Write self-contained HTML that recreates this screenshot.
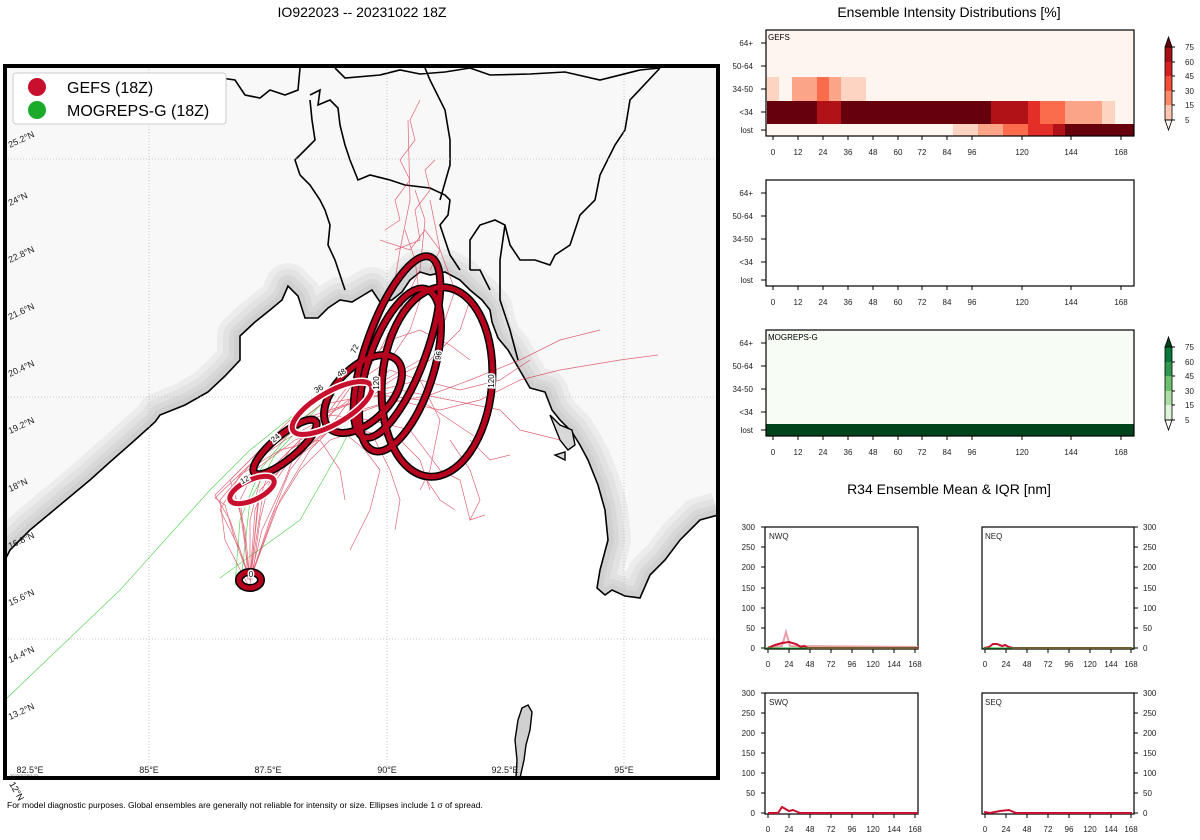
<!DOCTYPE html>
<html><head><meta charset="utf-8"><style>
html,body{margin:0;padding:0;background:#fff;overflow:hidden}
svg{display:block;font-family:"Liberation Sans","DejaVu Sans",sans-serif}
</style></head><body>
<svg width="1200" height="840" viewBox="0 0 1200 840" xmlns="http://www.w3.org/2000/svg">
<defs>
<clipPath id="mapclip"><rect x="5" y="66" width="713" height="712"/></clipPath>
<path id="coast" d="M718,515 L700,520 L680,540 L665,560 L650,575 L640,598 L625,596 L612,590 L605,595 L597,588 L600,570 L608,540 L605,510 L598,485 L588,460 L580,445 L572,432 L560,420 L552,410 L545,392 L530,388 L522,374 L515,362 L508,350 L498,338 L492,322 L490,310 L482,300 L470,290 L460,280 L445,272 L430,275 L420,272 L410,280 L402,292 L392,300 L380,302 L372,290 L362,296 L352,302 L340,300 L328,308 L318,318 L305,318 L298,296 L288,286 L282,300 L270,310 L255,322 L240,336 L240,360 L225,376 L208,392 L185,405 L160,415 L155,422 L135,440 L110,462 L90,480 L60,505 L30,530 L10,550 L5,560"/>
</defs>
<text x="362" y="17" font-size="14" text-anchor="middle">IO922023 -- 20231022 18Z</text>

<g clip-path="url(#mapclip)">
<rect x="5" y="66" width="713" height="712" fill="#f8f8f8"/>
<g fill="none" stroke-linejoin="round">
<use href="#coast" stroke="#ececec" stroke-width="46"/>
<use href="#coast" stroke="#e2e2e2" stroke-width="34"/>
<use href="#coast" stroke="#d8d8d8" stroke-width="22"/>
<use href="#coast" stroke="#d0d0d0" stroke-width="12"/>
</g>
<path d="M718,515 L700,520 L680,540 L665,560 L650,575 L640,598 L625,596 L612,590 L605,595 L597,588 L600,570 L608,540 L605,510 L598,485 L588,460 L580,445 L572,432 L560,420 L552,410 L545,392 L530,388 L522,374 L515,362 L508,350 L498,338 L492,322 L490,310 L482,300 L470,290 L460,280 L445,272 L430,275 L420,272 L410,280 L402,292 L392,300 L380,302 L372,290 L362,296 L352,302 L340,300 L328,308 L318,318 L305,318 L298,296 L288,286 L282,300 L270,310 L255,322 L240,336 L240,360 L225,376 L208,392 L185,405 L160,415 L155,422 L135,440 L110,462 L90,480 L60,505 L30,530 L10,550 L5,560 L5,900 L900,900 L900,515 Z" fill="#fff"/>
<use href="#coast" fill="none" stroke="#000" stroke-width="1.6"/>
<!-- country borders -->
<path d="M300,68 L298,90 L285,95 L270,90 L260,98 L245,95 L235,80 L200,75 L170,78 M335,68 L345,78 L380,75 L400,70 L420,74 L445,72 L470,68 M310,95 L320,90 L318,105 L330,100 L338,108 L340,125 L345,145 L350,160 L358,180 L370,175 L390,180 L405,185 L430,188 L445,195 L450,200 L448,215 L440,225 L445,240 L450,255 L460,270 M425,68 L430,80 L445,110 L450,140 L450,165 L440,200 M300,175 L295,160 L305,150 L315,140 L312,120 L310,100 M300,175 L310,185 L320,200 L325,210 L330,225 L328,245 L335,260 L340,275 L345,290 M470,68 L490,75 L530,74 L565,72 L600,80 L640,70 L660,68 M660,68 L630,100 L625,130 L615,145 L600,175 L595,200 L580,215 L570,245 L555,255 L550,265 L535,260 L520,260 L510,245 L505,225 L495,220 L480,225 L470,240 L470,270 M505,225 L500,260 L500,300 L510,330 L518,360 M470,270 L480,270 L490,290" fill="none" stroke="#000" stroke-width="1.6"/>
<path d="M550,415 L560,425 L572,430 L575,445 L568,450 L560,440 Z M555,455 L565,452 L565,460 Z" fill="#d8d8d8" stroke="#000" stroke-width="1.4"/>
<path d="M528,705 L532,712 L530,730 L526,745 L524,760 L520,778 L516,778 L517,760 L515,740 L518,720 L522,708 Z" fill="#d0d0d0" stroke="#000" stroke-width="1.4"/>
<g stroke="#bbb" stroke-width="0.8" stroke-dasharray="1,2">
<line x1="149" y1="66" x2="149" y2="778"/><line x1="387" y1="66" x2="387" y2="778"/><line x1="624" y1="66" x2="624" y2="778"/>
<line x1="5" y1="159" x2="718" y2="159"/><line x1="5" y1="397" x2="718" y2="397"/><line x1="5" y1="639" x2="718" y2="639"/>
</g>
<g fill="none" stroke="#3c3" stroke-width="0.7" opacity="0.8">
<path d="M5,700 L120,590 L210,490 L250,450 L300,410 L340,380"/>
<path d="M220,578 L300,520 L340,450 L360,410"/>
<path d="M235,585 L240,520 L260,470 L300,420 L335,395"/>
<path d="M240,590 L250,500 L275,455 L320,405"/>
</g>
<g fill="none" stroke="#d6334c" stroke-width="0.7" opacity="0.75">
<path d="M250,580 L230,520 L215,495 L240,470 L270,440 L300,410 L330,390 L360,380 L390,360 L410,330 L420,300 L415,260 L405,230"/>
<path d="M250,580 L245,530 L235,495 L260,460 L290,430 L320,405 L345,400 L380,395 L420,400 L450,420 L480,440"/>
<path d="M252,580 L260,520 L270,480 L290,450 L320,430 L350,420 L375,440 L390,470 L400,500 L395,530"/>
<path d="M248,585 L225,540 L220,500 L250,465 L285,440 L330,415 L370,420 L410,430 L440,470 L460,480 L470,520"/>
<path d="M250,580 L262,530 L285,480 L300,440 L330,410 L360,370 L380,320 L395,280 L400,250 L410,200 L408,120"/>
<path d="M250,580 L270,520 L290,470 L320,430 L345,395 L370,360 L390,340 L420,330 L450,345 L470,360"/>
<path d="M250,580 L255,510 L270,470 L300,440 L340,420 L380,405 L430,395 L470,380 L520,360 L560,340 L600,330"/>
<path d="M250,580 L240,510 L230,480 L265,445 L300,420 L345,405 L400,390 L450,400 L500,410 L520,430 L560,440"/>
<path d="M250,580 L265,540 L280,500 L310,450 L350,410 L385,380 L420,360 L445,320 L455,290 L440,250 L430,200"/>
<path d="M250,580 L250,520 L260,480 L285,455 L310,430 L355,395 L390,370 L420,380 L440,420 L430,470 L420,490"/>
<path d="M248,580 L245,540 L240,500 L255,470 L295,440 L335,425 L365,450 L380,470 L370,510 L350,550"/>
<path d="M250,580 L275,510 L300,470 L330,440 L360,430 L400,440 L420,460 L430,490"/>
<path d="M250,585 L258,500 L280,470 L320,440 L350,400 L380,350 L400,310 L420,270 L425,220 L415,190"/>
<path d="M250,580 L260,490 L290,460 L330,430 L360,410 L395,400 L440,410 L480,400 L520,380 L560,370 L620,360 L658,355"/>
<path d="M250,580 L262,500 L290,460 L340,420 L380,390 L420,380 L460,390 L500,380 L530,360"/>
<path d="M250,580 L240,550 L220,510 L240,475 L280,450 L320,440 L340,470 L345,500"/>
<path d="M385,230 L400,220 L395,200 L410,180 L400,160 L415,140 L410,120 L420,100 M395,250 L420,240 L415,210 L430,190 L425,170 L435,160 M380,240 L410,250 L425,230 L440,250 L430,270"/>
<path d="M450,440 L470,470 L480,500 L470,520 L485,515 M420,470 L440,500 L455,510 M470,440 L490,460 L510,455"/>
<path d="M250,580 L235,540 L225,505 L215,498 L260,455 L310,420 L360,400 L400,375 L430,360 L460,330 L470,300"/>
</g>
<g fill="none">
<g stroke="#000" stroke-width="8">
<ellipse cx="437" cy="382" rx="55" ry="95" transform="rotate(5 437 382)"/>
<ellipse cx="400" cy="370" rx="33" ry="85" transform="rotate(18 400 370)"/>
<ellipse cx="397" cy="347" rx="30" ry="96" transform="rotate(20 397 347)"/>
<ellipse cx="363" cy="394" rx="48" ry="27" transform="rotate(-45 363 394)"/>
<ellipse cx="285" cy="447" rx="40" ry="12" transform="rotate(-40 285 447)"/>
<ellipse cx="250" cy="580" rx="11" ry="8"/>
</g>
<g stroke="#b5001e" stroke-width="5">
<ellipse cx="437" cy="382" rx="55" ry="95" transform="rotate(5 437 382)"/>
<ellipse cx="400" cy="370" rx="33" ry="85" transform="rotate(18 400 370)"/>
<ellipse cx="397" cy="347" rx="30" ry="96" transform="rotate(20 397 347)"/>
<ellipse cx="363" cy="394" rx="48" ry="27" transform="rotate(-45 363 394)"/>
<ellipse cx="285" cy="447" rx="40" ry="12" transform="rotate(-40 285 447)"/>
<ellipse cx="250" cy="580" rx="11" ry="8"/>
</g>
<g stroke="#fff" stroke-width="8"><ellipse cx="332" cy="408" rx="45" ry="16" transform="rotate(-30 332 408)"/><ellipse cx="252" cy="490" rx="24" ry="10" transform="rotate(-25 252 490)"/></g>
<g stroke="#c8102e" stroke-width="5"><ellipse cx="332" cy="408" rx="45" ry="16" transform="rotate(-30 332 408)"/><ellipse cx="252" cy="490" rx="24" ry="10" transform="rotate(-25 252 490)"/></g>
</g>
<g font-size="8" text-anchor="middle" fill="#000">
<text x="251" y="577" stroke="#fff" stroke-width="3" paint-order="stroke">0</text>
<text x="246" y="482" transform="rotate(-30 246 482)" stroke="#fff" stroke-width="3" paint-order="stroke">12</text>
<text x="277" y="440" transform="rotate(-40 277 440)" stroke="#fff" stroke-width="3" paint-order="stroke">24</text>
<text x="320" y="391" transform="rotate(-30 320 391)" stroke="#fff" stroke-width="3" paint-order="stroke">36</text>
<text x="343" y="375" transform="rotate(-35 343 375)" stroke="#fff" stroke-width="3" paint-order="stroke">48</text>
<text x="357" y="350" transform="rotate(-65 357 350)" stroke="#fff" stroke-width="3" paint-order="stroke">72</text>
<text x="441" y="356" transform="rotate(-80 441 356)" stroke="#fff" stroke-width="3" paint-order="stroke">96</text>
<text x="379" y="383" transform="rotate(-90 379 383)" stroke="#fff" stroke-width="3" paint-order="stroke">120</text>
<text x="494" y="381" transform="rotate(-90 494 381)" stroke="#fff" stroke-width="3" paint-order="stroke">120</text>
</g>
<g font-size="9" fill="#222">
<text x="10" y="148" transform="rotate(-25 10 148)">25.2°N</text>
<text x="10" y="206" transform="rotate(-25 10 206)">24°N</text>
<text x="10" y="263" transform="rotate(-25 10 263)">22.8°N</text>
<text x="10" y="320" transform="rotate(-25 10 320)">21.6°N</text>
<text x="10" y="377" transform="rotate(-25 10 377)">20.4°N</text>
<text x="10" y="434" transform="rotate(-25 10 434)">19.2°N</text>
<text x="10" y="492" transform="rotate(-25 10 492)">18°N</text>
<text x="10" y="549" transform="rotate(-25 10 549)">16.8°N</text>
<text x="10" y="606" transform="rotate(-25 10 606)">15.6°N</text>
<text x="10" y="663" transform="rotate(-25 10 663)">14.4°N</text>
<text x="10" y="720" transform="rotate(-25 10 720)">13.2°N</text>
</g>
<g font-size="9" fill="#222" text-anchor="middle">
<text x="30" y="773">82.5°E</text><text x="149" y="773">85°E</text><text x="268" y="773">87.5°E</text><text x="387" y="773">90°E</text><text x="505" y="773">92.5°E</text><text x="624" y="773">95°E</text>
</g>
<text x="10" y="777" font-size="4" fill="#444">2023102302:33</text>
</g>
<rect x="5" y="66" width="713" height="712" fill="none" stroke="#000" stroke-width="4"/>
<text x="9" y="784" font-size="9" transform="rotate(60 9 784)">12°N</text>
<text x="7" y="808" font-size="8.5">For model diagnostic purposes. Global ensembles are generally not reliable for intensity or size. Ellipses include 1 σ of spread.</text>
<rect x="13" y="73" width="213" height="51" rx="3" fill="#fff" stroke="#ccc" stroke-width="1"/>
<circle cx="37" cy="87" r="9" fill="#c8102e"/><circle cx="37" cy="110" r="9" fill="#1aab2a"/>
<text x="67" y="93" font-size="16">GEFS (18Z)</text><text x="67" y="116" font-size="16">MOGREPS-G (18Z)</text>

<text x="949" y="17" font-size="14" text-anchor="middle">Ensemble Intensity Distributions [%]</text>
<rect x="766" y="30" width="368" height="106" fill="#fff5f0"/>
<g>
<rect x="767" y="77" width="12" height="24" fill="#fdd3c1"/>
<rect x="792" y="77" width="25" height="24" fill="#fca487"/>
<rect x="817" y="77" width="12" height="24" fill="#fb6c4c"/>
<rect x="829" y="77" width="12" height="24" fill="#fca487"/>
<rect x="841" y="77" width="25" height="24" fill="#fdd3c1"/>
<rect x="767" y="101" width="50" height="23" fill="#67000d"/>
<rect x="817" y="101" width="24" height="23" fill="#b11218"/>
<rect x="841" y="101" width="150" height="23" fill="#67000d"/>
<rect x="991" y="101" width="37" height="23" fill="#b11218"/>
<rect x="1028" y="101" width="12" height="23" fill="#e32f27"/>
<rect x="1040" y="101" width="25" height="23" fill="#fb6c4c"/>
<rect x="1065" y="101" width="37" height="23" fill="#fca487"/>
<rect x="1102" y="101" width="13" height="23" fill="#fdd3c1"/>
<rect x="953" y="124" width="25" height="12" fill="#fdd3c1"/>
<rect x="978" y="124" width="25" height="12" fill="#fca487"/>
<rect x="1003" y="124" width="25" height="12" fill="#fb6c4c"/>
<rect x="1028" y="124" width="25" height="12" fill="#e32f27"/>
<rect x="1053" y="124" width="12" height="12" fill="#b11218"/>
<rect x="1065" y="124" width="69" height="12" fill="#67000d"/>
</g>
<rect x="766" y="30" width="368" height="106" fill="none" stroke="#000" stroke-width="1.2"/>
<text x="768" y="40" font-size="8">GEFS</text>
<rect x="766" y="180" width="368" height="106" fill="#fff" stroke="#000" stroke-width="1.2"/>
<rect x="766" y="330" width="368" height="106" fill="#f7fcf5"/>
<rect x="766" y="424" width="368" height="12" fill="#00441b"/>
<rect x="766" y="330" width="368" height="106" fill="none" stroke="#000" stroke-width="1.2"/>
<text x="768" y="340" font-size="8">MOGREPS-G</text>
<g font-size="8" text-anchor="end" fill="#222">
<text x="753" y="46">64+</text><text x="753" y="69">50-64</text><text x="753" y="92">34-50</text><text x="753" y="115">&lt;34</text><text x="753" y="133">lost</text>
<text x="753" y="196">64+</text><text x="753" y="219">50-64</text><text x="753" y="242">34-50</text><text x="753" y="265">&lt;34</text><text x="753" y="283">lost</text>
<text x="753" y="346">64+</text><text x="753" y="369">50-64</text><text x="753" y="392">34-50</text><text x="753" y="415">&lt;34</text><text x="753" y="433">lost</text>
</g>
<g stroke="#000" stroke-width="1">
<path d="M761,43H766M761,66H766M761,89H766M761,112H766M761,130H766"/>
<path d="M761,193H766M761,216H766M761,239H766M761,262H766M761,280H766"/>
<path d="M761,343H766M761,366H766M761,389H766M761,412H766M761,430H766"/>
<path d="M773,136v4M798,136v4M823,136v4M848,136v4M873,136v4M898,136v4M922,136v4M947,136v4M972,136v4M1022,136v4M1071,136v4M1121,136v4"/>
<path d="M773,286v4M798,286v4M823,286v4M848,286v4M873,286v4M898,286v4M922,286v4M947,286v4M972,286v4M1022,286v4M1071,286v4M1121,286v4"/>
<path d="M773,436v4M798,436v4M823,436v4M848,436v4M873,436v4M898,436v4M922,436v4M947,436v4M972,436v4M1022,436v4M1071,436v4M1121,436v4"/>
</g>
<g font-size="8" text-anchor="middle" fill="#222">
<text x="773" y="155">0</text><text x="798" y="155">12</text><text x="823" y="155">24</text><text x="848" y="155">36</text><text x="873" y="155">48</text><text x="898" y="155">60</text><text x="922" y="155">72</text><text x="947" y="155">84</text><text x="972" y="155">96</text><text x="1022" y="155">120</text><text x="1071" y="155">144</text><text x="1121" y="155">168</text>
<text x="773" y="305">0</text><text x="798" y="305">12</text><text x="823" y="305">24</text><text x="848" y="305">36</text><text x="873" y="305">48</text><text x="898" y="305">60</text><text x="922" y="305">72</text><text x="947" y="305">84</text><text x="972" y="305">96</text><text x="1022" y="305">120</text><text x="1071" y="305">144</text><text x="1121" y="305">168</text>
<text x="773" y="455">0</text><text x="798" y="455">12</text><text x="823" y="455">24</text><text x="848" y="455">36</text><text x="873" y="455">48</text><text x="898" y="455">60</text><text x="922" y="455">72</text><text x="947" y="455">84</text><text x="972" y="455">96</text><text x="1022" y="455">120</text><text x="1071" y="455">144</text><text x="1121" y="455">168</text>
</g>
<g>
<path d="M1165,47 L1168.5,37 L1172,47Z" fill="#67000d" stroke="#000" stroke-width="0.8"/>
<rect x="1165" y="47" width="7" height="15" fill="#a50f15"/>
<rect x="1165" y="62" width="7" height="14" fill="#d42020"/>
<rect x="1165" y="76" width="7" height="15" fill="#f44d38"/>
<rect x="1165" y="91" width="7" height="14" fill="#fc8a6a"/>
<rect x="1165" y="105" width="7" height="15" fill="#fdc6b0"/>
<path d="M1165,120 L1168.5,130 L1172,120Z" fill="#fff5f0" stroke="#000" stroke-width="0.8"/>
<rect x="1165" y="47" width="7" height="73" fill="none" stroke="#000" stroke-width="0.8"/>
</g>
<g>
<path d="M1165,347 L1168.5,337 L1172,347Z" fill="#00441b" stroke="#000" stroke-width="0.8"/>
<rect x="1165" y="347" width="7" height="15" fill="#08763a"/>
<rect x="1165" y="362" width="7" height="14" fill="#2f974e"/>
<rect x="1165" y="376" width="7" height="15" fill="#6ec071"/>
<rect x="1165" y="391" width="7" height="14" fill="#acdea6"/>
<rect x="1165" y="405" width="7" height="15" fill="#ddf2d8"/>
<path d="M1165,420 L1168.5,430 L1172,420Z" fill="#f7fcf5" stroke="#000" stroke-width="0.8"/>
<rect x="1165" y="347" width="7" height="73" fill="none" stroke="#000" stroke-width="0.8"/>
</g>
<g stroke="#000" stroke-width="1"><path d="M1172,47h3M1172,62h3M1172,76h3M1172,91h3M1172,105h3M1172,120h3M1172,347h3M1172,362h3M1172,376h3M1172,391h3M1172,405h3M1172,420h3"/></g>
<g font-size="8" fill="#222">
<text x="1185" y="50">75</text><text x="1185" y="65">60</text><text x="1185" y="79">45</text><text x="1185" y="94">30</text><text x="1185" y="108">15</text><text x="1185" y="123">5</text>
<text x="1185" y="350">75</text><text x="1185" y="365">60</text><text x="1185" y="379">45</text><text x="1185" y="394">30</text><text x="1185" y="408">15</text><text x="1185" y="423">5</text>
</g>

<text x="949" y="494" font-size="14" text-anchor="middle">R34 Ensemble Mean &amp; IQR [nm]</text>
<g fill="#fff" stroke="#000" stroke-width="1.2">
<rect x="765" y="527" width="153" height="122"/><rect x="982" y="527" width="152" height="122"/>
<rect x="765" y="693" width="153" height="121"/><rect x="982" y="693" width="152" height="121"/>
</g>
<g font-size="8" fill="#222"><text x="769" y="539">NWQ</text><text x="985" y="539">NEQ</text><text x="769" y="705">SWQ</text><text x="985" y="705">SEQ</text></g>
<g fill="none">
<path d="M768,647 L782,646 L786,632 L790,646 L918,647" stroke="#eaa0aa" stroke-width="2"/>
<path d="M768,648 L775,645 L782,643 L789,642 L796,644 L801,647 L804,646 L808,648 L918,648" stroke="#c8102e" stroke-width="2"/>
<line x1="766" y1="648" x2="917" y2="648" stroke="#1aab2a" stroke-width="1"/>
<path d="M984,648 L989,647 L993,644 L997,644 L1002,646 L1005,645 L1009,647 L1013,648 L1132,648" stroke="#c8102e" stroke-width="2"/>
<line x1="983" y1="648" x2="1133" y2="648" stroke="#1aab2a" stroke-width="1"/>
<path d="M768,813 L778,813 L782,807 L789,811 L793,810 L800,813 L918,813" stroke="#c8102e" stroke-width="2"/>
<path d="M984,812 L990,813 L1000,811 L1009,810 L1016,813 L1132,813" stroke="#c8102e" stroke-width="2"/>
</g>
<g stroke="#000" stroke-width="1">
<path d="M761,527h4M761,547h4M761,567h4M761,588h4M761,608h4M761,628h4M761,648h4"/>
<path d="M761,693h4M761,713h4M761,733h4M761,753h4M761,773h4M761,793h4M761,813h4"/>
<path d="M1134,527h4M1134,547h4M1134,567h4M1134,588h4M1134,608h4M1134,628h4M1134,648h4"/>
<path d="M1134,693h4M1134,713h4M1134,733h4M1134,753h4M1134,773h4M1134,793h4M1134,813h4"/>
<path d="M768,649v4M789,649v4M810,649v4M831,649v4M852,649v4M873,649v4M894,649v4M915,649v4"/>
<path d="M985,649v4M1006,649v4M1027,649v4M1048,649v4M1069,649v4M1090,649v4M1111,649v4M1131,649v4"/>
<path d="M768,814v4M789,814v4M810,814v4M831,814v4M852,814v4M873,814v4M894,814v4M915,814v4"/>
<path d="M985,814v4M1006,814v4M1027,814v4M1048,814v4M1069,814v4M1090,814v4M1111,814v4M1131,814v4"/>
</g>
<g font-size="8" fill="#222" text-anchor="end">
<text x="755" y="530">300</text><text x="755" y="550">250</text><text x="755" y="570">200</text><text x="755" y="591">150</text><text x="755" y="611">100</text><text x="755" y="631">50</text><text x="755" y="651">0</text>
<text x="755" y="696">300</text><text x="755" y="716">250</text><text x="755" y="736">200</text><text x="755" y="756">150</text><text x="755" y="776">100</text><text x="755" y="796">50</text><text x="755" y="816">0</text>
</g>
<g font-size="8" fill="#222">
<text x="1143" y="530">300</text><text x="1143" y="550">250</text><text x="1143" y="570">200</text><text x="1143" y="591">150</text><text x="1143" y="611">100</text><text x="1143" y="631">50</text><text x="1143" y="651">0</text>
<text x="1143" y="696">300</text><text x="1143" y="716">250</text><text x="1143" y="736">200</text><text x="1143" y="756">150</text><text x="1143" y="776">100</text><text x="1143" y="796">50</text><text x="1143" y="816">0</text>
</g>
<g font-size="8" fill="#222" text-anchor="middle">
<text x="768" y="667">0</text><text x="789" y="667">24</text><text x="810" y="667">48</text><text x="831" y="667">72</text><text x="852" y="667">96</text><text x="873" y="667">120</text><text x="894" y="667">144</text><text x="915" y="667">168</text>
<text x="985" y="667">0</text><text x="1006" y="667">24</text><text x="1027" y="667">48</text><text x="1048" y="667">72</text><text x="1069" y="667">96</text><text x="1090" y="667">120</text><text x="1111" y="667">144</text><text x="1131" y="667">168</text>
<text x="768" y="832">0</text><text x="789" y="832">24</text><text x="810" y="832">48</text><text x="831" y="832">72</text><text x="852" y="832">96</text><text x="873" y="832">120</text><text x="894" y="832">144</text><text x="915" y="832">168</text>
<text x="985" y="832">0</text><text x="1006" y="832">24</text><text x="1027" y="832">48</text><text x="1048" y="832">72</text><text x="1069" y="832">96</text><text x="1090" y="832">120</text><text x="1111" y="832">144</text><text x="1131" y="832">168</text>
</g>
</svg>
</body></html>
